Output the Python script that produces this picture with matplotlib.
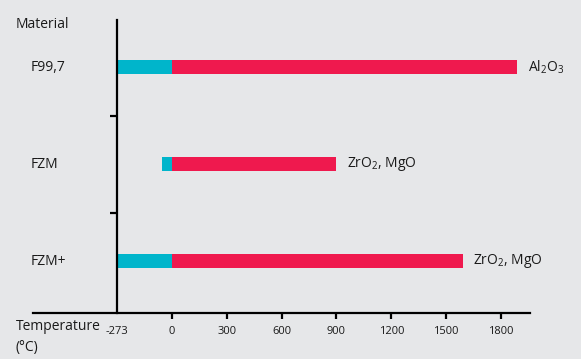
import numpy as np
import matplotlib
matplotlib.use("Agg")
import matplotlib.pyplot as plt
from matplotlib.transforms import blended_transform_factory

# data
materials = ["F99,7", "FZM", "FZM+"]
t_min = [-273, -50, -273]
t_max = [1890, 900, 1590]
compositions = [r"Al$\mathregular{_2}$O$\mathregular{_3}$",
                r"ZrO$\mathregular{_2}$, MgO",
                r"ZrO$\mathregular{_2}$, MgO"]
tick_values = [-273, 0, 300, 600, 900, 1200, 1500, 1800]

bg = "#e6e7e9"
cold = "#00b5cb"
hot = "#ef194e"

plt.rcParams["font.family"] = ["Open Sans", "DejaVu Sans"]
plt.rcParams["mathtext.fontset"] = "custom"
plt.rcParams["mathtext.rm"] = "Open Sans"

W, H = 581, 359
fig = plt.figure(figsize=(W / 100, H / 100), dpi=100, facecolor=bg)
ax = fig.add_axes([33 / W, 1 - 312.7 / H, (530 - 33) / W, (312.7 - 20) / H])
ax.set_facecolor(bg)

# the gap -273..0 is drawn as wide as one 300 step
def fwd(x):
    x = np.asarray(x, dtype=float)
    return np.where(x < 0, x * 300 / 273, x)

def inv(x):
    x = np.asarray(x, dtype=float)
    return np.where(x < 0, x * 273 / 300, x)

ax.set_xscale("function", functions=(fwd, inv))

y = np.arange(len(materials))
bh = 0.145
for i in range(len(materials)):
    ax.barh(y[i], 0 - t_min[i], left=t_min[i], height=bh, color=cold, lw=0)
    ax.barh(y[i], t_max[i], left=0, height=bh, color=hot, lw=0)
    ax.annotate(compositions[i], (t_max[i], y[i]), xytext=(7.5, 0),
                textcoords="offset points", va="center", ha="left",
                fontsize=10, color="#1a1a1a")

ax.set_xlim(-692, 1959)
ax.set_ylim(2.53, -0.485)

for s in ["top", "right"]:
    ax.spines[s].set_visible(False)
ax.spines["left"].set_position(("data", -273))
ax.spines["left"].set_linewidth(1.6)
ax.spines["bottom"].set_linewidth(1.6)

ax.set_xticks(tick_values)
ax.set_xticklabels([str(v) for v in tick_values])
ax.tick_params(axis="x", direction="out", length=4.5, width=1.6, pad=5,
               labelsize=8, labelcolor="#1a1a1a")
ax.xaxis.get_major_ticks()[0].tick1line.set_visible(False)

ax.set_yticks([0.5, 1.5])
ax.set_yticklabels([])
ax.tick_params(axis="y", direction="out", length=5, width=1.6)

tr = blended_transform_factory(fig.transFigure, ax.transData)
for i, m in enumerate(materials):
    ax.text(31 / W, y[i], m, transform=tr, ha="left", va="center",
            fontsize=10, color="#1a1a1a")

fig.text(16 / W, 1 - 24 / H, "Material", ha="left", va="center",
         fontsize=10, color="#1a1a1a")
fig.text(16 / W, 1 - 327 / H, "Temperature", ha="left", va="center",
         fontsize=10, color="#1a1a1a")
fig.text(16 / W, 1 - 348 / H, "(°C)", ha="left", va="center",
         fontsize=10, color="#1a1a1a")

fig.savefig("out.png", dpi=100, facecolor=bg)
